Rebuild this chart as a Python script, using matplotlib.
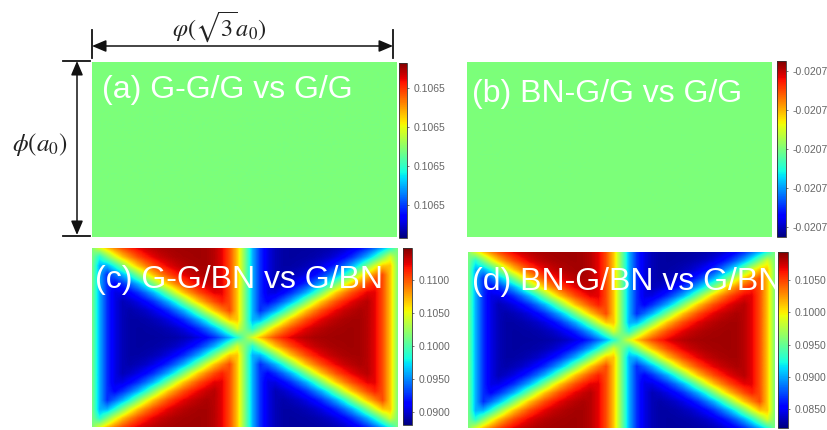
import numpy as np
import matplotlib
matplotlib.use("Agg")
import matplotlib.pyplot as plt
from matplotlib.ticker import FormatStrFormatter

plt.rcParams['font.family'] = ['Liberation Sans', 'DejaVu Sans']
plt.rcParams['mathtext.fontset'] = 'stix'

W, H = 828, 430

# panel titles
titles = ["(a) G-G/G vs G/G", "(b) BN-G/G vs G/G",
          "(c) G-G/BN vs G/BN", "(d) BN-G/BN vs G/BN"]

# (a), (b): flat maps
a_range = (0.10649960, 0.10650050)
a_value = 0.10650005
a_ticks = [0.10649977, 0.10649997, 0.10650017, 0.10650037]

b_range = (-0.02070225, -0.02069775)
b_value = -0.02070000
b_ticks = [-0.0207020, -0.0207010, -0.0207000, -0.0206990, -0.0206980]

# (c), (d): colour of each cell read as its position on the colorbar
# (0 = bottom, 1 = top); both maps show the same pattern.
# rows: top (phi = a0) to bottom (phi = 0), cols along phi(sqrt3 a0)
cd_levels = [
    [.5, .61, .70, .77, .83, .875, .91, .935, .95, .96, .965, .968, .97, .97, .97, .965, .95, .91, .83, .70, .5, .30, .17, .09, .05, .035, .03, .03, .03, .032, .035, .04, .05, .065, .09, .125, .17, .23, .30, .39, .5],
    [.5, .39, .5, .61, .70, .77, .83, .875, .91, .935, .95, .96, .965, .968, .97, .965, .95, .91, .83, .70, .5, .30, .17, .09, .05, .035, .03, .032, .035, .04, .05, .065, .09, .125, .17, .23, .30, .39, .5, .61, .5],
    [.5, .30, .30, .39, .5, .61, .70, .77, .83, .875, .91, .935, .95, .96, .965, .965, .95, .91, .83, .70, .5, .30, .17, .09, .05, .035, .035, .04, .05, .065, .09, .125, .17, .23, .30, .39, .5, .61, .70, .70, .5],
    [.5, .30, .17, .23, .30, .39, .5, .61, .70, .77, .83, .875, .91, .935, .95, .96, .95, .91, .83, .70, .5, .30, .17, .09, .05, .04, .05, .065, .09, .125, .17, .23, .30, .39, .5, .61, .70, .77, .83, .70, .5],
    [.5, .30, .17, .125, .17, .23, .30, .39, .5, .61, .70, .77, .83, .875, .91, .935, .95, .91, .83, .70, .5, .30, .17, .09, .05, .065, .09, .125, .17, .23, .30, .39, .5, .61, .70, .77, .83, .875, .83, .70, .5],
    [.5, .30, .17, .09, .09, .125, .17, .23, .30, .39, .5, .61, .70, .77, .83, .875, .91, .91, .83, .70, .5, .30, .17, .09, .09, .125, .17, .23, .30, .39, .5, .61, .70, .77, .83, .875, .91, .91, .83, .70, .5],
    [.5, .30, .17, .09, .05, .065, .09, .125, .17, .23, .30, .39, .5, .61, .70, .77, .83, .875, .83, .70, .5, .30, .17, .125, .17, .23, .30, .39, .5, .61, .70, .77, .83, .875, .91, .935, .95, .91, .83, .70, .5],
    [.5, .30, .17, .09, .05, .04, .05, .065, .09, .125, .17, .23, .30, .39, .5, .61, .70, .77, .83, .70, .5, .30, .17, .23, .30, .39, .5, .61, .70, .77, .83, .875, .91, .935, .95, .96, .95, .91, .83, .70, .5],
    [.5, .30, .17, .09, .05, .035, .035, .04, .05, .065, .09, .125, .17, .23, .30, .39, .5, .61, .70, .70, .5, .30, .30, .39, .5, .61, .70, .77, .83, .875, .91, .935, .95, .96, .965, .965, .95, .91, .83, .70, .5],
    [.5, .30, .17, .09, .05, .035, .03, .032, .035, .04, .05, .065, .09, .125, .17, .23, .30, .39, .5, .61, .5, .39, .5, .61, .70, .77, .83, .875, .91, .935, .95, .96, .965, .968, .97, .965, .95, .91, .83, .70, .5],
    [.5, .30, .17, .09, .05, .035, .03, .03, .03, .032, .035, .04, .05, .065, .09, .125, .17, .23, .30, .39, .5, .61, .70, .77, .83, .875, .91, .935, .95, .96, .965, .968, .97, .97, .97, .965, .95, .91, .83, .70, .5],
    [.5, .30, .17, .09, .05, .035, .03, .032, .035, .04, .05, .065, .09, .125, .17, .23, .30, .39, .5, .61, .5, .39, .5, .61, .70, .77, .83, .875, .91, .935, .95, .96, .965, .968, .97, .965, .95, .91, .83, .70, .5],
    [.5, .30, .17, .09, .05, .035, .035, .04, .05, .065, .09, .125, .17, .23, .30, .39, .5, .61, .70, .70, .5, .30, .30, .39, .5, .61, .70, .77, .83, .875, .91, .935, .95, .96, .965, .965, .95, .91, .83, .70, .5],
    [.5, .30, .17, .09, .05, .04, .05, .065, .09, .125, .17, .23, .30, .39, .5, .61, .70, .77, .83, .70, .5, .30, .17, .23, .30, .39, .5, .61, .70, .77, .83, .875, .91, .935, .95, .96, .95, .91, .83, .70, .5],
    [.5, .30, .17, .09, .05, .065, .09, .125, .17, .23, .30, .39, .5, .61, .70, .77, .83, .875, .83, .70, .5, .30, .17, .125, .17, .23, .30, .39, .5, .61, .70, .77, .83, .875, .91, .935, .95, .91, .83, .70, .5],
    [.5, .30, .17, .09, .09, .125, .17, .23, .30, .39, .5, .61, .70, .77, .83, .875, .91, .91, .83, .70, .5, .30, .17, .09, .09, .125, .17, .23, .30, .39, .5, .61, .70, .77, .83, .875, .91, .91, .83, .70, .5],
    [.5, .30, .17, .125, .17, .23, .30, .39, .5, .61, .70, .77, .83, .875, .91, .935, .95, .91, .83, .70, .5, .30, .17, .09, .05, .065, .09, .125, .17, .23, .30, .39, .5, .61, .70, .77, .83, .875, .83, .70, .5],
    [.5, .30, .17, .23, .30, .39, .5, .61, .70, .77, .83, .875, .91, .935, .95, .96, .95, .91, .83, .70, .5, .30, .17, .09, .05, .04, .05, .065, .09, .125, .17, .23, .30, .39, .5, .61, .70, .77, .83, .70, .5],
    [.5, .30, .30, .39, .5, .61, .70, .77, .83, .875, .91, .935, .95, .96, .965, .965, .95, .91, .83, .70, .5, .30, .17, .09, .05, .035, .035, .04, .05, .065, .09, .125, .17, .23, .30, .39, .5, .61, .70, .70, .5],
    [.5, .39, .5, .61, .70, .77, .83, .875, .91, .935, .95, .96, .965, .968, .97, .965, .95, .91, .83, .70, .5, .30, .17, .09, .05, .035, .03, .032, .035, .04, .05, .065, .09, .125, .17, .23, .30, .39, .5, .61, .5],
    [.5, .61, .70, .77, .83, .875, .91, .935, .95, .96, .965, .968, .97, .97, .97, .965, .95, .91, .83, .70, .5, .30, .17, .09, .05, .035, .03, .03, .03, .032, .035, .04, .05, .065, .09, .125, .17, .23, .30, .39, .5],
]
c_range = (0.0880, 0.1148)
c_ticks = [0.0900, 0.0950, 0.1000, 0.1050, 0.1100]
d_range = (0.0821, 0.1093)
d_ticks = [0.0850, 0.0900, 0.0950, 0.1000, 0.1050]


def px(x0, y0, x1, y1):
    # pixel box (top-left origin) -> figure fraction rect
    return [x0 / W, (H - y1) / H, (x1 - x0) / W, (y1 - y0) / H]


lv = np.array(cd_levels)
c_grid = c_range[0] + lv * (c_range[1] - c_range[0])
d_grid = d_range[0] + lv * (d_range[1] - d_range[0])

fig = plt.figure(figsize=(W / 100, H / 100), dpi=100)

panels = [
    dict(data=np.full((2, 2), a_value), rng=a_range, ticks=a_ticks,
         box=(92, 62, 397, 237), cbox=(399.5, 63, 407, 237.5), tpos=(0.033, 0.794)),
    dict(data=np.full((2, 2), b_value), rng=b_range, ticks=b_ticks,
         box=(467, 62, 772, 237), cbox=(777, 61, 786, 237), tpos=(0.015, 0.771)),
    dict(data=c_grid, rng=c_range, ticks=c_ticks,
         box=(92, 248, 398, 427), cbox=(403, 248, 412, 425), tpos=(0.010, 0.777)),
    dict(data=d_grid, rng=d_range, ticks=d_ticks,
         box=(468, 252, 775, 428), cbox=(778, 252, 788, 428), tpos=(0.012, 0.784)),
]

for p, title in zip(panels, titles):
    ax = fig.add_axes(px(*p['box']))
    nr, nc = p['data'].shape
    hx = 0.5 / (nc - 1)
    hy = 0.5 / (nr - 1)
    im = ax.imshow(p['data'], cmap='jet', vmin=p['rng'][0], vmax=p['rng'][1],
                   extent=[-hx, 1 + hx, -hy, 1 + hy], origin='upper',
                   aspect='auto', interpolation='bilinear')
    ax.set_xlim(0, 1)
    ax.set_ylim(0, 1)
    ax.axis('off')
    ax.text(p['tpos'][0], p['tpos'][1], title, transform=ax.transAxes,
            color='white', fontsize=23, va='baseline', ha='left', clip_on=True)

    cax = fig.add_axes(px(*p['cbox']))
    cb = fig.colorbar(im, cax=cax, ticks=p['ticks'])
    cb.ax.yaxis.set_major_formatter(FormatStrFormatter('%.4f'))
    cb.ax.tick_params(labelsize=7.5, length=1.5, width=0.5, colors='#444444',
                      labelcolor='#666666', pad=3)
    cb.outline.set_linewidth(0.6)
    cb.outline.set_edgecolor('#333333')

# dimension guides
ov = fig.add_axes([0, 0, 1, 1])
ov.set_xlim(0, W)
ov.set_ylim(H, 0)
ov.axis('off')
ov.patch.set_alpha(0)

arw = dict(arrowstyle='<|-|>,head_length=0.85,head_width=0.36', color='#111111',
           lw=1.1, shrinkA=0, shrinkB=0, mutation_scale=10)
ov.annotate('', xy=(393, 46), xytext=(92, 46), arrowprops=arw)
ov.plot([92, 92], [30, 58], color='#111111', lw=1.3)
ov.plot([393.5, 393.5], [30, 58], color='#111111', lw=1.3)
ov.text(219, 27, r'$\varphi(\sqrt{3}a_0)$', fontsize=17.5, ha='center', va='center',
        color='#222222')

ov.annotate('', xy=(77, 235), xytext=(77, 61), arrowprops=arw)
ov.plot([63, 90], [60.5, 60.5], color='#111111', lw=1.3)
ov.plot([63, 90], [235.5, 235.5], color='#111111', lw=1.3)
ov.text(40, 145, r'$\phi(a_0)$', fontsize=18, ha='center', va='center',
        color='#222222')

fig.savefig('out.png', dpi=100)
